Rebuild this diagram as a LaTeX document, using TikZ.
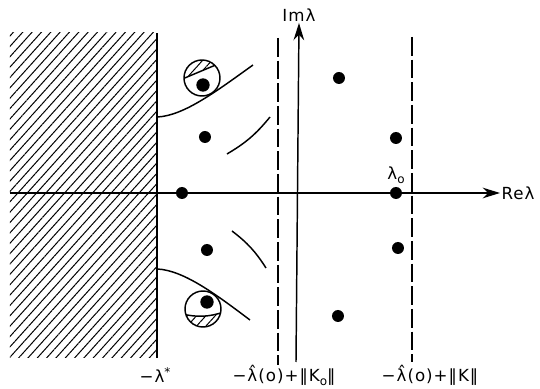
\documentclass[tikz,border=0pt]{standalone}
\usepackage{fontspec}
\setmainfont{DejaVu Sans}[LetterSpace=6]
\usepackage{tikz}
\usetikzlibrary{arrows.meta,patterns.meta}
\tikzset{
  axisline/.style={line width=1.1pt, -{Stealth[length=13pt,width=8pt]}},
  bound/.style={line width=1.1pt, dash pattern=on 14pt off 3pt},
  curve/.style={line width=1.1pt},
  pole/.style={circle, fill=black, inner sep=0pt, minimum size=9pt},
  hatch/.style={pattern={Lines[angle=48,distance=5.2pt,line width=0.75pt]}},
  lbl/.style={font=\fontsize{12.5}{14}\selectfont, inner sep=1pt},
}
\newcommand{\upidx}[1]{\raisebox{0.7ex}{\fontsize{9}{10}\selectfont #1}}
\newcommand{\dnidx}[1]{\raisebox{-0.45ex}{\fontsize{9}{10}\selectfont #1}}

\begin{document}
\begin{tikzpicture}[x=0.75pt,y=0.75pt]
  \useasboundingbox (-296,-196) rectangle (244,193);
  % forbidden half plane
  \fill[hatch] (-286,-165) rectangle (-139,160);
  \coordinate (ltop) at (-139,160);
  \coordinate (lbot) at (-139,-165);
  \draw[curve] (lbot) -- (ltop);
  % axes
  \coordinate (west) at (-286,0);
  \coordinate (south) at (0,-169);
  \node[lbl, anchor=west] (re) at (204,0) {Reλ};
  \node[lbl] (im) at (3,178) {Imλ};
  \draw[axisline] (west) -- (re.west);
  \draw[axisline] (south) -- (im.south);
  % bounds
  \node[lbl] (lstar) at (-141,-182) {−λ\upidx{*}};
  \node[lbl] (bnda) at (-12,-182) {−\^{λ}(o)+‖K\dnidx{o}‖};
  \node[lbl] (bndb) at (134,-182) {−\^{λ}(o)+‖K‖};
  \coordinate (atop) at (-18,155);
  \coordinate (btop) at (116,156);
  \draw[bound] (atop) -- (-18,-172);
  \draw[bound] (btop) -- (116,-169);
  % eigenvalues
  \node[pole] (p1) at (-114,0) {};
  \node[pole] (p2) at (-91,56) {};
  \node[pole] (p3) at (-89,-57) {};
  \node[pole] (p4) at (43,115) {};
  \node[pole] (p5) at (42,-123) {};
  \node[pole] (p6) at (100,55) {};
  \node[pole] (l0) at (100,0) {};
  \node[pole] (p7) at (102,-55) {};
  \node[lbl, above=1pt] (l0lbl) at (l0.north) {λ\dnidx{o}};
  % arcs
  \draw[curve] (-139,76) .. controls (-112,77) and (-78,103) .. (-43,128);
  \draw[curve] (-139,-76) .. controls (-112,-77) and (-78,-103) .. (-46,-127);
  \draw[curve] (-69,39) to[bend right=10] (-26,76);
  \draw[curve] (-64,-38) to[bend left=10] (-30,-75);
  % upper circle
  \begin{scope}
    \clip (-94,115) circle (18);
    \fill[hatch] (-116,113) -- (-78,129) -- (-70,140) -- (-120,140) -- cycle;
    \draw[curve] (-116,113) -- (-78,129);
  \end{scope}
  \draw[curve] (-94,115) circle (18);
  \node[pole, minimum size=10pt] (c1) at (-93,108) {};
  % lower circle
  \begin{scope}
    \clip (-93,-116) circle (18);
    \fill[hatch] (-114,-121) to[bend right=15] (-72,-119) -- (-70,-140) -- (-120,-140) -- cycle;
    \draw[curve] (-114,-121) to[bend right=15] (-72,-119);
  \end{scope}
  \draw[curve] (-93,-116) circle (18);
  \node[pole, minimum size=10pt] (c2) at (-89,-109) {};
\end{tikzpicture}
\end{document}
